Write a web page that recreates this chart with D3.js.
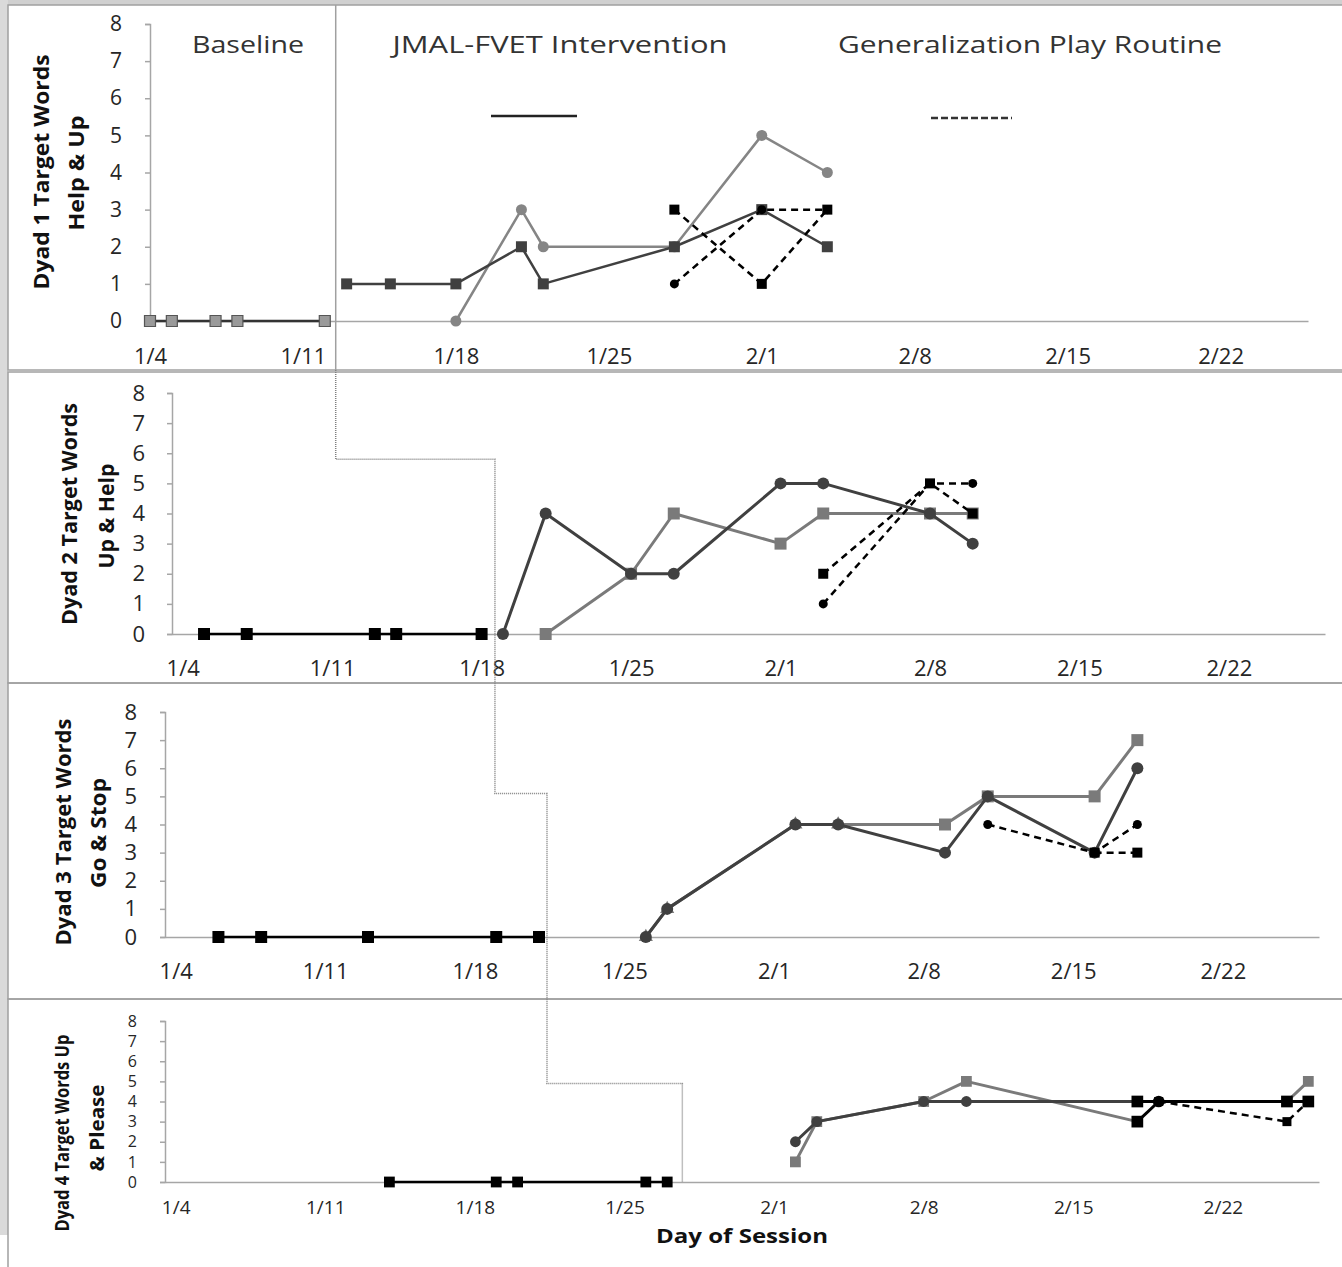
<!DOCTYPE html>
<html lang="en">
<head>
<meta charset="UTF-8">
<title>Dyad target words</title>
<style>
  body { margin: 0; background: #fff; }
  svg text { font-family: 'Open Sans', 'Noto Sans', Arial, sans-serif; }
  .axis path, .axis line { stroke: #a6a6a6; stroke-width: 1.5; }
  .axis text { fill: #262626; }
</style>
</head>
<body>
<div id="chart"></div>
<script src="https://d3js.org/d3.v7.min.js"></script>
<script>
// ---- data (date, words) ----
var xTicks = ["1/4", "1/11", "1/18", "1/25", "2/1", "2/8", "2/15", "2/22"];
var yTicks = [0, 1, 2, 3, 4, 5, 6, 7, 8];
var phaseNames = ["Baseline", "JMAL-FVET Intervention", "Generalization Play Routine"];
var titles = [["Dyad 1 Target Words", "Help & Up"], ["Dyad 2 Target Words", "Up & Help"],
              ["Dyad 3 Target Words", "Go & Stop"], ["Dyad 4 Target Words  Up", "& Please"]];

// phase change dates per panel and the level where the step line crosses over
var phaseChange = ["1/12 12:00", "1/18 15:00", "1/21 09:00", "1/27 17:00"];
var stepLevel = [5.8, 5.1, 4.9];

var d1Base = [["1/4", 0], ["1/5", 0], ["1/7", 0], ["1/8", 0], ["1/12", 0]];
var d1Square = [["1/13", 1], ["1/15", 1], ["1/18", 1], ["1/21", 2], ["1/22", 1], ["1/28", 2], ["2/1", 3], ["2/4", 2]];
var d1Circle = [["1/18", 0], ["1/21", 3], ["1/22", 2], ["1/28", 2], ["2/1", 5], ["2/4", 4]];
var d1GenSquare = [["1/28", 3], ["2/1", 1], ["2/4", 3]];
var d1GenCircle = [["1/28", 1], ["2/1", 3], ["2/4", 3]];

var d2Base = [["1/5", 0], ["1/7", 0], ["1/13", 0], ["1/14", 0], ["1/18", 0]];
var d2Circle = [["1/19", 0], ["1/21", 4], ["1/25", 2], ["1/27", 2], ["2/1", 5], ["2/3", 5], ["2/8", 4], ["2/10", 3]];
var d2Square = [["1/21", 0], ["1/25", 2], ["1/27", 4], ["2/1", 3], ["2/3", 4], ["2/8", 4], ["2/10", 4]];
var d2GenSquare = [["2/3", 2], ["2/8", 5], ["2/10", 4]];
var d2GenCircle = [["2/3", 1], ["2/8", 5], ["2/10", 5]];

var d3Base = [["1/6", 0], ["1/8", 0], ["1/13", 0], ["1/19", 0], ["1/21", 0]];
var d3Circle = [["1/26", 0], ["1/27", 1], ["2/2", 4], ["2/4", 4], ["2/9", 3], ["2/11", 5], ["2/16", 3], ["2/18", 6]];
var d3Square = [["1/26", 0], ["1/27", 1], ["2/2", 4], ["2/4", 4], ["2/9", 4], ["2/11", 5], ["2/16", 5], ["2/18", 7]];
var d3GenCircle = [["2/11", 4], ["2/16", 3], ["2/18", 4]];
var d3GenSquare = [["2/16", 3], ["2/18", 3]];

var d4Base = [["1/14", 0], ["1/19", 0], ["1/20", 0], ["1/26", 0], ["1/27", 0]];
var d4Circle = [["2/2", 2], ["2/3", 3], ["2/8", 4], ["2/10", 4], ["2/18", 4]];
var d4Square = [["2/2", 1], ["2/3", 3], ["2/8", 4], ["2/10", 5], ["2/18", 3], ["2/25", null], ["2/25", 4], ["2/26", 5]];
var d4GenDash = [["2/19", 4], ["2/25", 3], ["2/26", 4]];
var d4GenSolid = [["2/18", 4], ["2/25", 4], ["2/26", 4]];
var d4GenStep = [["2/18", 3], ["2/19", 4]];

// ---- styles ----
var styles = {
  baseGray: {stroke: "#333", fill: "#9a9a9a", outline: "#555", shape: "square", size: 11, width: 2.5},
  baseBlack: {stroke: "#000", fill: "#000", shape: "square", size: 12, width: 2.5},
  darkSq: {stroke: "#404040", fill: "#404040", shape: "square", size: 11, width: 2.5},
  grayCi: {stroke: "#858585", fill: "#858585", shape: "circle", size: 11, width: 2.5},
  darkCi: {stroke: "#404040", fill: "#404040", shape: "circle", size: 12, width: 3},
  graySq: {stroke: "#7a7a7a", fill: "#7a7a7a", shape: "square", size: 12, width: 3},
  grayTriSq: {stroke: "#7a7a7a", fill: "#7a7a7a", shape: function(i) { return i < 4 ? "triangle" : "square"; }, size: 12, width: 3},
  genSq: {stroke: "#000", fill: "#000", shape: "square", size: 10, width: 2.5, dash: "7,5"},
  genCi: {stroke: "#000", fill: "#000", shape: "circle", size: 9, width: 2.5, dash: "7,5"},
  genSolidSq: {stroke: "#000", fill: "#000", shape: "square", size: 13, width: 3},
  genStep: {stroke: "#000", fill: "#000", shape: function(i) { return i == 0 ? "square" : "circle"; }, size: 13, width: 3}
};

var series = [
  [[d1Base, "baseGray"], [d1Circle, "grayCi"], [d1Square, "darkSq"], [d1GenSquare, "genSq"], [d1GenCircle, "genCi"]],
  [[d2Base, "baseBlack"], [d2Square, "graySq"], [d2Circle, "darkCi"], [d2GenSquare, "genSq"], [d2GenCircle, "genCi"]],
  [[d3Base, "baseBlack"], [d3Square, "grayTriSq"], [d3Circle, "darkCi"], [d3GenSquare, "genSq"], [d3GenCircle, "genCi"]],
  [[d4Base, "baseBlack"], [d4Square, "graySq"], [d4Circle, "darkCi"], [d4GenDash, "genSq"], [d4GenSolid, "genSolidSq"], [d4GenStep, "genStep"]]
];

// ---- layout ----
var panels = [
  {frame: [5, 370], x: [150, 1308], y: [321, 24], dom: ["1/4 00:00", "2/26 00:00"], yFont: 21, xFont: 22, xDy: 35, yGap: 28,
   tx: [40, 75], ty: [172, 173], tLen: [235, 115], tFont: 22, mk: 1},
  {frame: [372, 683], x: [172, 1325], y: [634, 393], dom: ["1/3 12:00", "2/26 12:00"], yFont: 22, xFont: 22, xDy: 34, yGap: 27,
   tx: [68, 105], ty: [514, 516], tLen: [222, 105], tFont: 22, mk: 1},
  {frame: [683, 999], x: [165, 1319], y: [937, 712], dom: ["1/3 12:00", "2/26 12:00"], yFont: 22, xFont: 22, xDy: 34, yGap: 28,
   tx: [62, 97], ty: [832, 833], tLen: [227, 110], tFont: 22, mk: 1},
  {frame: [999, 1300], x: [165, 1319], y: [1182, 1021], dom: ["1/3 12:00", "2/26 12:00"], yFont: 16, xFont: 19, xDy: 25, yGap: 28,
   tx: [62, 97], ty: [1133, 1128], tLen: [197, 87], tFont: 19, mk: 0.9}
];

var W = 1342, H = 1267;
var parseDay = d3.timeParse("%m/%d %Y");
var parseTime = d3.timeParse("%m/%d %H:%M %Y");
function day(s) { return parseDay(s + " 2010"); }
function time(s) { return parseTime(s + " 2010"); }

var svg = d3.select("#chart").append("svg")
  .attr("width", W).attr("height", H);

// window chrome strips
svg.append("rect").attr("x", 0).attr("y", 0).attr("width", W).attr("height", 5).attr("fill", "#d0d0d0");
svg.append("rect").attr("x", 0).attr("y", 0).attr("width", 8).attr("height", 1235).attr("fill", "#dadada");

var symbols = {square: d3.symbolSquare, circle: d3.symbolCircle, triangle: d3.symbolTriangle};
function area(shape, s) {
  if (shape == "square") return s * s;
  if (shape == "circle") return Math.PI * s * s / 4;
  return s * s * 0.6;
}

var scales = [];

panels.forEach(function(p, k) {
  // frame
  svg.append("rect")
    .attr("x", 8).attr("y", p.frame[0])
    .attr("width", W - 8 + 2).attr("height", p.frame[1] - p.frame[0])
    .attr("fill", "none").attr("stroke", "#a0a0a0").attr("stroke-width", 1.5);

  var x = d3.scaleTime().domain([time(p.dom[0]), time(p.dom[1])]).range(p.x);
  var y = d3.scaleLinear().domain([0, 8]).range(p.y);
  scales.push({x: x, y: y});

  var gx = svg.append("g").attr("class", "axis")
    .attr("transform", "translate(0," + p.y[0] + ")")
    .call(d3.axisBottom(x).tickValues(xTicks.map(day)).tickFormat(d3.timeFormat("%-m/%-d")).tickSize(0).tickPadding(p.xDy - p.xFont * 0.36));
  gx.selectAll("text").attr("font-size", p.xFont);

  var gy = svg.append("g").attr("class", "axis")
    .attr("transform", "translate(" + p.x[0] + ",0)")
    .call(d3.axisLeft(y).tickValues(yTicks).tickSize(5).tickPadding(p.yGap - 5));
  gy.selectAll("text").attr("font-size", p.yFont);

  // y title, two lines
  titles[k].forEach(function(t, j) {
    svg.append("text")
      .attr("transform", "translate(" + p.tx[j] + "," + p.ty[j] + ") rotate(-90)")
      .attr("text-anchor", "middle").attr("dominant-baseline", "central")
      .attr("font-size", p.tFont).attr("font-weight", "bold").attr("fill", "#111")
      .attr("textLength", p.tLen[j]).attr("lengthAdjust", "spacingAndGlyphs")
      .text(t);
  });

  // series
  series[k].forEach(function(s) {
    var st = styles[s[1]];
    var pts = s[0].map(function(d) { return {date: day(d[0]), v: d[1]}; });
    var line = d3.line().defined(function(d) { return d.v != null; })
      .x(function(d) { return x(d.date); }).y(function(d) { return y(d.v); });
    svg.append("path").datum(pts)
      .attr("d", line).attr("fill", "none")
      .attr("stroke", st.stroke).attr("stroke-width", st.width)
      .attr("stroke-dasharray", st.dash || null)
      .attr("stroke-linejoin", "round");
    svg.append("g").selectAll("path")
      .data(pts.filter(function(d) { return d.v != null; }))
      .join("path")
      .attr("transform", function(d) { return "translate(" + x(d.date) + "," + y(d.v) + ")"; })
      .attr("d", function(d, i) {
        var sh = typeof st.shape == "function" ? st.shape(i) : st.shape;
        return d3.symbol().type(symbols[sh]).size(area(sh, st.size * p.mk))();
      })
      .attr("fill", st.fill)
      .attr("stroke", st.outline || null)
      .attr("stroke-width", st.outline ? 1.2 : null);
  });
});

// phase change line: solid in panel 1, dotted steps below
var s2 = scales[1], s3 = scales[2], s4 = scales[3];
var px = phaseChange.map(function(t, i) { return scales[i].x(time(t)); });
svg.append("line")
  .attr("x1", px[0]).attr("x2", px[0]).attr("y1", 5).attr("y2", panels[0].frame[1])
  .attr("stroke", "#a0a0a0").attr("stroke-width", 1.5);
var stepPts = [
  [px[0], panels[0].frame[1]],
  [px[0], s2.y(stepLevel[0])], [px[1], s2.y(stepLevel[0])],
  [px[1], s3.y(stepLevel[1])], [px[2], s3.y(stepLevel[1])],
  [px[2], s4.y(stepLevel[2])], [px[3], s4.y(stepLevel[2])],
  [px[3], s4.y(0)]
];
svg.append("path")
  .attr("d", d3.line()(stepPts))
  .attr("fill", "none").attr("stroke", "#808080").attr("stroke-width", 1.5)
  .attr("stroke-dasharray", "1,1");

// phase labels in panel 1
var labelPos = [[248, 112], [560, 335], [1030, 384]];
phaseNames.forEach(function(t, i) {
  svg.append("text")
    .attr("x", labelPos[i][0]).attr("y", 44)
    .attr("text-anchor", "middle").attr("dominant-baseline", "central")
    .attr("font-size", 23).attr("fill", "#333")
    .attr("textLength", labelPos[i][1]).attr("lengthAdjust", "spacingAndGlyphs")
    .text(t);
});
svg.append("line").attr("x1", 491).attr("x2", 577).attr("y1", 116).attr("y2", 116)
  .attr("stroke", "#222").attr("stroke-width", 2.5);
svg.append("line").attr("x1", 931).attr("x2", 1012).attr("y1", 118).attr("y2", 118)
  .attr("stroke", "#333").attr("stroke-width", 2.5).attr("stroke-dasharray", "7,3");

// x axis title
svg.append("text")
  .attr("x", 742).attr("y", 1236)
  .attr("text-anchor", "middle").attr("dominant-baseline", "central")
  .attr("font-size", 19).attr("font-weight", "bold").attr("fill", "#111")
  .attr("textLength", 172).attr("lengthAdjust", "spacingAndGlyphs")
  .text("Day of Session");
</script>
</body>
</html>
